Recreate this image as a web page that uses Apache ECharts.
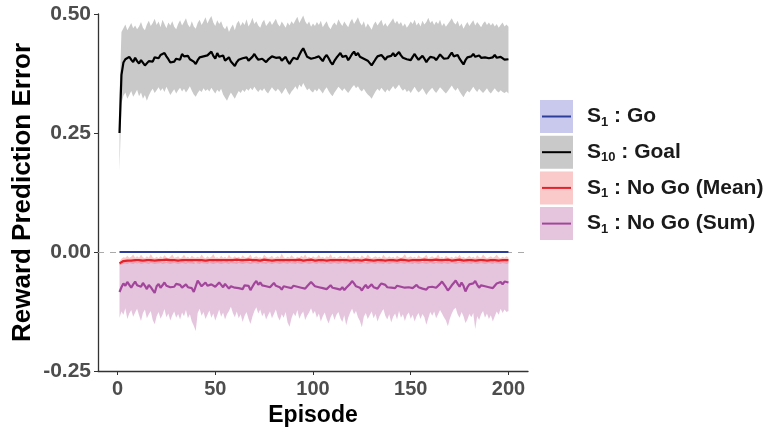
<!DOCTYPE html>
<html><head><meta charset="utf-8">
<script src="https://cdn.jsdelivr.net/npm/echarts@6/dist/echarts.min.js"></script>
<style>html,body{margin:0;padding:0;background:#fff}#c{width:781px;height:432px}</style>
</head><body><div id="c"></div>
<script>
const goalMean = [
0.250,0.372,0.398,0.405,0.402,0.410,0.404,0.399,0.408,0.401,
0.396,0.403,0.399,0.392,0.394,0.401,0.405,0.400,0.409,0.412,
0.407,0.414,0.410,0.418,0.411,0.405,0.398,0.402,0.400,0.406,
0.409,0.404,0.416,0.411,0.407,0.412,0.405,0.408,0.400,0.395,
0.403,0.409,0.405,0.411,0.407,0.413,0.410,0.421,0.412,0.406,
0.418,0.410,0.407,0.413,0.402,0.406,0.409,0.400,0.396,0.391,
0.399,0.404,0.401,0.407,0.403,0.409,0.402,0.405,0.410,0.416,
0.409,0.404,0.401,0.406,0.403,0.399,0.404,0.407,0.411,0.415,
0.408,0.404,0.409,0.402,0.406,0.410,0.401,0.395,0.402,0.408,
0.411,0.405,0.414,0.422,0.428,0.419,0.410,0.413,0.406,0.402,
0.408,0.404,0.411,0.406,0.401,0.409,0.414,0.407,0.399,0.394,
0.402,0.408,0.413,0.418,0.410,0.406,0.412,0.403,0.409,0.416,
0.421,0.413,0.418,0.410,0.414,0.406,0.409,0.402,0.398,0.392,
0.396,0.405,0.411,0.407,0.414,0.409,0.404,0.410,0.406,0.412,
0.418,0.411,0.415,0.420,0.413,0.408,0.412,0.405,0.409,0.403,
0.410,0.416,0.409,0.404,0.408,0.412,0.406,0.399,0.405,0.410,
0.414,0.408,0.403,0.409,0.415,0.411,0.406,0.402,0.407,0.413,
0.419,0.411,0.408,0.414,0.406,0.400,0.394,0.403,0.409,0.405,
0.411,0.416,0.410,0.406,0.413,0.408,0.404,0.409,0.412,0.407,
0.403,0.409,0.414,0.408,0.405,0.410,0.406,0.404,0.407,0.405];
const goalUpper = [
0.330,0.462,0.470,0.478,0.466,0.473,0.481,0.470,0.476,0.468,
0.474,0.483,0.471,0.466,0.478,0.486,0.475,0.481,0.490,0.477,
0.484,0.472,0.488,0.479,0.470,0.482,0.476,0.485,0.473,0.468,
0.479,0.487,0.476,0.483,0.491,0.478,0.472,0.485,0.474,0.469,
0.481,0.488,0.477,0.484,0.493,0.480,0.489,0.496,0.482,0.475,
0.487,0.479,0.485,0.473,0.468,0.476,0.462,0.471,0.478,0.466,
0.480,0.486,0.475,0.483,0.477,0.489,0.474,0.481,0.492,0.479,
0.485,0.476,0.471,0.482,0.488,0.475,0.480,0.486,0.477,0.483,
0.490,0.479,0.474,0.484,0.478,0.471,0.482,0.476,0.485,0.479,
0.487,0.494,0.481,0.489,0.497,0.485,0.478,0.484,0.473,0.480,
0.475,0.483,0.477,0.486,0.472,0.479,0.485,0.474,0.468,0.477,
0.482,0.476,0.489,0.481,0.475,0.484,0.478,0.472,0.483,0.490,
0.479,0.486,0.493,0.482,0.476,0.485,0.471,0.480,0.474,0.467,
0.478,0.484,0.476,0.482,0.488,0.475,0.481,0.473,0.479,0.485,
0.491,0.480,0.486,0.478,0.483,0.474,0.480,0.471,0.477,0.484,
0.479,0.488,0.476,0.482,0.474,0.486,0.478,0.483,0.492,0.481,
0.486,0.477,0.484,0.479,0.488,0.475,0.481,0.473,0.479,0.485,
0.491,0.482,0.478,0.486,0.474,0.480,0.469,0.477,0.483,0.475,
0.481,0.487,0.476,0.483,0.478,0.472,0.480,0.485,0.477,0.482,
0.476,0.481,0.474,0.479,0.471,0.477,0.482,0.474,0.478,0.473];
const goalLower = [
0.170,0.312,0.328,0.335,0.322,0.330,0.338,0.326,0.333,0.341,
0.327,0.335,0.322,0.330,0.318,0.329,0.337,0.343,0.334,0.340,
0.346,0.338,0.344,0.336,0.347,0.339,0.330,0.336,0.342,0.333,
0.340,0.345,0.337,0.343,0.335,0.341,0.348,0.339,0.331,0.326,
0.334,0.340,0.336,0.344,0.338,0.342,0.337,0.345,0.339,0.333,
0.341,0.336,0.343,0.331,0.324,0.318,0.327,0.335,0.328,0.322,
0.331,0.338,0.334,0.341,0.336,0.343,0.339,0.345,0.340,0.347,
0.341,0.336,0.342,0.338,0.344,0.337,0.333,0.340,0.346,0.341,
0.337,0.343,0.338,0.332,0.339,0.345,0.336,0.330,0.337,0.342,
0.348,0.341,0.352,0.346,0.355,0.347,0.340,0.344,0.338,0.335,
0.342,0.337,0.344,0.339,0.333,0.341,0.346,0.338,0.332,0.327,
0.335,0.341,0.347,0.343,0.338,0.344,0.339,0.334,0.340,0.346,
0.351,0.344,0.348,0.341,0.337,0.343,0.336,0.331,0.327,0.322,
0.330,0.337,0.343,0.338,0.345,0.340,0.335,0.342,0.337,0.343,
0.349,0.342,0.346,0.352,0.344,0.339,0.343,0.336,0.340,0.334,
0.341,0.347,0.340,0.335,0.339,0.344,0.337,0.330,0.336,0.341,
0.345,0.339,0.334,0.340,0.346,0.342,0.337,0.333,0.338,0.344,
0.350,0.343,0.339,0.345,0.337,0.331,0.325,0.333,0.339,0.335,
0.341,0.347,0.341,0.336,0.343,0.338,0.334,0.339,0.344,0.337,
0.333,0.339,0.344,0.338,0.335,0.340,0.336,0.334,0.337,0.333];
const sumMean = [
-0.084,-0.074,-0.066,-0.071,-0.063,-0.069,-0.075,-0.068,-0.062,-0.070,
-0.066,-0.073,-0.065,-0.071,-0.078,-0.069,-0.074,-0.080,-0.086,-0.072,
-0.067,-0.075,-0.070,-0.064,-0.071,-0.068,-0.074,-0.070,-0.073,-0.067,
-0.071,-0.069,-0.075,-0.072,-0.068,-0.074,-0.070,-0.076,-0.084,-0.088,
-0.060,-0.066,-0.072,-0.069,-0.064,-0.071,-0.075,-0.068,-0.066,-0.073,
-0.070,-0.064,-0.069,-0.074,-0.067,-0.071,-0.077,-0.072,-0.068,-0.075,
-0.071,-0.076,-0.073,-0.078,-0.070,-0.074,-0.071,-0.080,-0.073,-0.066,
-0.061,-0.069,-0.064,-0.070,-0.066,-0.072,-0.068,-0.074,-0.070,-0.065,
-0.071,-0.067,-0.074,-0.079,-0.072,-0.068,-0.074,-0.070,-0.076,-0.071,
-0.067,-0.073,-0.069,-0.075,-0.071,-0.077,-0.072,-0.068,-0.063,-0.066,
-0.072,-0.068,-0.074,-0.070,-0.076,-0.073,-0.078,-0.074,-0.070,-0.075,
-0.071,-0.077,-0.073,-0.079,-0.074,-0.080,-0.075,-0.071,-0.067,-0.061,
-0.066,-0.072,-0.068,-0.075,-0.081,-0.074,-0.069,-0.076,-0.072,-0.068,
-0.074,-0.070,-0.077,-0.071,-0.066,-0.062,-0.069,-0.074,-0.070,-0.075,
-0.072,-0.076,-0.071,-0.068,-0.073,-0.069,-0.075,-0.071,-0.074,-0.070,
-0.076,-0.072,-0.069,-0.074,-0.071,-0.077,-0.073,-0.079,-0.074,-0.070,
-0.073,-0.069,-0.075,-0.071,-0.067,-0.062,-0.068,-0.074,-0.081,-0.076,
-0.070,-0.065,-0.060,-0.067,-0.073,-0.064,-0.071,-0.083,-0.074,-0.068,
-0.072,-0.066,-0.061,-0.069,-0.075,-0.070,-0.066,-0.072,-0.068,-0.074,
-0.070,-0.076,-0.071,-0.066,-0.070,-0.063,-0.068,-0.062,-0.065,-0.064];
const sumUpper = [
-0.024,-0.021,-0.019,-0.020,-0.018,-0.021,-0.019,-0.020,-0.018,-0.022,
-0.020,-0.018,-0.021,-0.019,-0.020,-0.022,-0.018,-0.020,-0.021,-0.019,
-0.018,-0.020,-0.022,-0.019,-0.021,-0.018,-0.020,-0.019,-0.021,-0.020,
-0.019,-0.021,-0.018,-0.020,-0.022,-0.019,-0.020,-0.018,-0.021,-0.023,
-0.020,-0.018,-0.021,-0.019,-0.020,-0.018,-0.022,-0.020,-0.019,-0.021,
-0.018,-0.020,-0.019,-0.021,-0.020,-0.018,-0.022,-0.019,-0.020,-0.021,
-0.019,-0.021,-0.020,-0.018,-0.021,-0.019,-0.020,-0.022,-0.018,-0.020,
-0.021,-0.019,-0.020,-0.018,-0.021,-0.020,-0.019,-0.022,-0.020,-0.018,
-0.020,-0.021,-0.019,-0.020,-0.018,-0.021,-0.020,-0.019,-0.022,-0.020,
-0.019,-0.020,-0.018,-0.021,-0.019,-0.020,-0.022,-0.018,-0.020,-0.021,
-0.020,-0.019,-0.021,-0.018,-0.020,-0.022,-0.019,-0.020,-0.021,-0.018,
-0.019,-0.021,-0.020,-0.018,-0.022,-0.019,-0.020,-0.021,-0.019,-0.020,
-0.021,-0.018,-0.020,-0.019,-0.021,-0.020,-0.022,-0.019,-0.018,-0.020,
-0.020,-0.019,-0.021,-0.020,-0.018,-0.021,-0.019,-0.022,-0.020,-0.019,
-0.018,-0.020,-0.021,-0.019,-0.020,-0.018,-0.021,-0.020,-0.019,-0.022,
-0.020,-0.021,-0.019,-0.018,-0.020,-0.021,-0.019,-0.020,-0.022,-0.018,
-0.019,-0.020,-0.021,-0.018,-0.020,-0.019,-0.021,-0.020,-0.018,-0.022,
-0.020,-0.019,-0.018,-0.021,-0.020,-0.019,-0.022,-0.020,-0.018,-0.021,
-0.019,-0.021,-0.020,-0.018,-0.020,-0.022,-0.019,-0.021,-0.020,-0.019,
-0.020,-0.018,-0.021,-0.019,-0.020,-0.021,-0.018,-0.020,-0.019,-0.020];
const sumLower = [
-0.138,-0.125,-0.132,-0.118,-0.141,-0.129,-0.122,-0.136,-0.127,-0.119,
-0.133,-0.145,-0.128,-0.121,-0.139,-0.131,-0.124,-0.143,-0.152,-0.135,
-0.126,-0.140,-0.132,-0.120,-0.137,-0.129,-0.144,-0.133,-0.125,-0.138,
-0.130,-0.142,-0.127,-0.135,-0.122,-0.139,-0.131,-0.146,-0.155,-0.166,
-0.128,-0.119,-0.134,-0.126,-0.141,-0.132,-0.123,-0.138,-0.129,-0.144,
-0.133,-0.121,-0.136,-0.127,-0.142,-0.131,-0.124,-0.115,-0.128,-0.137,
-0.125,-0.139,-0.131,-0.147,-0.134,-0.126,-0.140,-0.151,-0.136,-0.124,
-0.116,-0.129,-0.121,-0.135,-0.127,-0.142,-0.133,-0.125,-0.139,-0.130,
-0.121,-0.136,-0.144,-0.131,-0.138,-0.126,-0.148,-0.157,-0.139,-0.128,
-0.135,-0.122,-0.140,-0.131,-0.125,-0.143,-0.134,-0.127,-0.118,-0.130,
-0.124,-0.138,-0.129,-0.146,-0.135,-0.127,-0.141,-0.150,-0.137,-0.129,
-0.143,-0.132,-0.126,-0.139,-0.147,-0.133,-0.154,-0.138,-0.127,-0.119,
-0.131,-0.124,-0.137,-0.145,-0.158,-0.136,-0.128,-0.141,-0.133,-0.125,
-0.139,-0.130,-0.146,-0.135,-0.127,-0.120,-0.134,-0.142,-0.131,-0.148,
-0.136,-0.129,-0.142,-0.124,-0.138,-0.131,-0.145,-0.133,-0.127,-0.140,
-0.132,-0.146,-0.135,-0.128,-0.141,-0.130,-0.137,-0.153,-0.139,-0.126,
-0.134,-0.125,-0.139,-0.131,-0.122,-0.129,-0.137,-0.144,-0.156,-0.140,
-0.129,-0.121,-0.117,-0.131,-0.138,-0.126,-0.135,-0.149,-0.142,-0.130,
-0.137,-0.128,-0.162,-0.135,-0.143,-0.131,-0.124,-0.138,-0.129,-0.141,
-0.133,-0.146,-0.135,-0.125,-0.132,-0.119,-0.128,-0.121,-0.126,-0.124];
const meanMean = [
-0.024,-0.021,-0.019,-0.018,-0.018,-0.017,-0.018,-0.017,-0.017,-0.018,
-0.017,-0.017,-0.018,-0.017,-0.017,-0.016,-0.017,-0.017,-0.018,-0.017,
-0.017,-0.018,-0.017,-0.017,-0.016,-0.017,-0.017,-0.018,-0.017,-0.017,
-0.018,-0.017,-0.017,-0.016,-0.017,-0.018,-0.017,-0.017,-0.017,-0.018,
-0.017,-0.016,-0.017,-0.017,-0.018,-0.017,-0.017,-0.016,-0.017,-0.017,
-0.017,-0.018,-0.017,-0.017,-0.017,-0.016,-0.017,-0.018,-0.017,-0.017,
-0.016,-0.017,-0.017,-0.018,-0.017,-0.017,-0.016,-0.017,-0.017,-0.018,
-0.017,-0.017,-0.018,-0.017,-0.016,-0.017,-0.017,-0.017,-0.018,-0.017,
-0.017,-0.016,-0.017,-0.018,-0.017,-0.017,-0.017,-0.016,-0.017,-0.018,
-0.017,-0.017,-0.016,-0.017,-0.018,-0.017,-0.017,-0.017,-0.016,-0.017,
-0.018,-0.017,-0.017,-0.016,-0.017,-0.017,-0.018,-0.017,-0.017,-0.016,
-0.017,-0.018,-0.017,-0.017,-0.017,-0.016,-0.017,-0.017,-0.018,-0.017,
-0.017,-0.016,-0.017,-0.017,-0.018,-0.017,-0.016,-0.017,-0.017,-0.017,
-0.018,-0.017,-0.017,-0.016,-0.017,-0.017,-0.018,-0.017,-0.017,-0.016,
-0.017,-0.017,-0.018,-0.017,-0.016,-0.017,-0.017,-0.017,-0.018,-0.017,
-0.017,-0.016,-0.017,-0.018,-0.017,-0.017,-0.016,-0.017,-0.017,-0.018,
-0.017,-0.017,-0.016,-0.017,-0.017,-0.018,-0.017,-0.017,-0.016,-0.017,
-0.018,-0.017,-0.017,-0.017,-0.016,-0.017,-0.018,-0.017,-0.017,-0.016,
-0.017,-0.017,-0.018,-0.017,-0.017,-0.016,-0.017,-0.017,-0.018,-0.017,
-0.017,-0.016,-0.017,-0.017,-0.018,-0.017,-0.017,-0.016,-0.017,-0.017];
const meanUpper = [
-0.020,-0.014,-0.011,-0.012,-0.008,-0.012,-0.010,-0.005,-0.012,-0.009,
-0.012,-0.006,-0.011,-0.013,-0.009,-0.012,-0.004,-0.011,-0.013,-0.010,
-0.013,-0.009,-0.012,-0.007,-0.011,-0.013,-0.010,-0.005,-0.012,-0.011,
-0.009,-0.013,-0.011,-0.006,-0.012,-0.010,-0.013,-0.008,-0.011,-0.012,
-0.010,-0.012,-0.005,-0.011,-0.013,-0.009,-0.012,-0.010,-0.004,-0.012,
-0.011,-0.013,-0.008,-0.012,-0.010,-0.013,-0.006,-0.011,-0.012,-0.009,
-0.012,-0.010,-0.013,-0.007,-0.011,-0.012,-0.010,-0.005,-0.013,-0.011,
-0.009,-0.012,-0.011,-0.013,-0.006,-0.010,-0.012,-0.011,-0.008,-0.013,
-0.011,-0.009,-0.012,-0.003,-0.011,-0.013,-0.010,-0.012,-0.007,-0.011,
-0.013,-0.010,-0.012,-0.008,-0.011,-0.005,-0.012,-0.010,-0.013,-0.009,
-0.012,-0.011,-0.006,-0.012,-0.010,-0.013,-0.009,-0.011,-0.004,-0.012,
-0.010,-0.013,-0.011,-0.008,-0.012,-0.010,-0.013,-0.006,-0.011,-0.012,
-0.009,-0.012,-0.010,-0.013,-0.007,-0.011,-0.012,-0.005,-0.010,-0.013,
-0.011,-0.009,-0.012,-0.010,-0.013,-0.006,-0.011,-0.012,-0.009,-0.012,
-0.010,-0.013,-0.008,-0.011,-0.012,-0.010,-0.004,-0.012,-0.011,-0.009,
-0.012,-0.010,-0.013,-0.007,-0.011,-0.012,-0.010,-0.006,-0.013,-0.011,
-0.009,-0.012,-0.011,-0.005,-0.012,-0.010,-0.013,-0.008,-0.011,-0.012,
-0.010,-0.013,-0.009,-0.011,-0.006,-0.012,-0.010,-0.013,-0.011,-0.008,
-0.012,-0.010,-0.013,-0.007,-0.011,-0.012,-0.005,-0.010,-0.013,-0.011,
-0.009,-0.012,-0.010,-0.006,-0.011,-0.013,-0.010,-0.012,-0.009,-0.012];
const meanLower = [
-0.028,-0.027,-0.025,-0.024,-0.025,-0.023,-0.024,-0.025,-0.023,-0.024,
-0.023,-0.025,-0.024,-0.023,-0.024,-0.025,-0.023,-0.024,-0.025,-0.024,
-0.024,-0.023,-0.025,-0.024,-0.023,-0.024,-0.025,-0.024,-0.023,-0.024,
-0.025,-0.024,-0.023,-0.024,-0.025,-0.023,-0.024,-0.024,-0.025,-0.023,
-0.024,-0.025,-0.023,-0.024,-0.024,-0.025,-0.023,-0.024,-0.025,-0.024,
-0.023,-0.024,-0.025,-0.024,-0.023,-0.024,-0.025,-0.023,-0.024,-0.024,
-0.025,-0.023,-0.024,-0.025,-0.024,-0.023,-0.024,-0.025,-0.024,-0.023,
-0.024,-0.025,-0.023,-0.024,-0.024,-0.025,-0.023,-0.024,-0.025,-0.024,
-0.023,-0.024,-0.025,-0.024,-0.023,-0.024,-0.025,-0.023,-0.024,-0.024,
-0.025,-0.023,-0.024,-0.025,-0.024,-0.023,-0.024,-0.025,-0.024,-0.023,
-0.024,-0.025,-0.023,-0.024,-0.024,-0.025,-0.023,-0.024,-0.025,-0.024,
-0.023,-0.024,-0.025,-0.024,-0.023,-0.024,-0.025,-0.023,-0.024,-0.024,
-0.025,-0.023,-0.024,-0.025,-0.024,-0.023,-0.024,-0.025,-0.024,-0.023,
-0.024,-0.025,-0.023,-0.024,-0.024,-0.025,-0.023,-0.024,-0.025,-0.024,
-0.023,-0.024,-0.025,-0.024,-0.023,-0.024,-0.025,-0.023,-0.024,-0.024,
-0.025,-0.023,-0.024,-0.025,-0.024,-0.023,-0.024,-0.025,-0.024,-0.023,
-0.024,-0.025,-0.023,-0.024,-0.024,-0.025,-0.023,-0.024,-0.025,-0.024,
-0.023,-0.024,-0.025,-0.024,-0.023,-0.024,-0.025,-0.023,-0.024,-0.024,
-0.025,-0.023,-0.024,-0.025,-0.024,-0.023,-0.024,-0.025,-0.024,-0.023,
-0.024,-0.025,-0.023,-0.024,-0.024,-0.025,-0.023,-0.024,-0.025,-0.024];
const goMean = [
0,0,0,0,0,0,0,0,0,0, 0,0,0,0,0,0,0,0,0,0,
0,0,0,0,0,0,0,0,0,0, 0,0,0,0,0,0,0,0,0,0,
0,0,0,0,0,0,0,0,0,0, 0,0,0,0,0,0,0,0,0,0,
0,0,0,0,0,0,0,0,0,0, 0,0,0,0,0,0,0,0,0,0,
0,0,0,0,0,0,0,0,0,0, 0,0,0,0,0,0,0,0,0,0,
0,0,0,0,0,0,0,0,0,0, 0,0,0,0,0,0,0,0,0,0,
0,0,0,0,0,0,0,0,0,0, 0,0,0,0,0,0,0,0,0,0,
0,0,0,0,0,0,0,0,0,0, 0,0,0,0,0,0,0,0,0,0,
0,0,0,0,0,0,0,0,0,0, 0,0,0,0,0,0,0,0,0,0,
0,0,0,0,0,0,0,0,0,0, 0,0,0,0,0,0,0,0,0,0];
const xTicks = [0, 50, 100, 150, 200];
const yTicks = [-0.25, 0, 0.25, 0.5];
const legendSub = ['1', '10', '1', '1'];
const legendNames = [' : Go', ' : Goal', ' : No Go (Mean)', ' : No Go (Sum)'];

const FONT = 'Liberation Sans';
const episodes = goalMean.map((_, i) => i + 1);
const pairs = arr => arr.map((v, i) => [episodes[i], v]);

const colors = {
  go: {line: '#2c3e99', band: 'rgba(90,90,200,0.33)'},
  goal: {line: '#000000', band: '#c9c9c9'},
  mean: {line: '#e4202b', band: 'rgba(240,90,90,0.32)'},
  sum: {line: '#a2469c', band: 'rgba(190,110,170,0.40)'}
};

function band(key, up, lo) {
  return {
    type: 'custom', silent: true, z: 1, clip: true,
    data: [0],
    renderItem: function (params, api) {
      const pts = [];
      for (let i = 0; i < up.length; i++) pts.push(api.coord([episodes[i], up[i]]));
      for (let i = lo.length - 1; i >= 0; i--) pts.push(api.coord([episodes[i], lo[i]]));
      return {type: 'polygon', shape: {points: pts}, style: {fill: colors[key].band}};
    }
  };
}
function line(key, arr, extra) {
  return Object.assign({type: 'line', data: pairs(arr), symbol: 'none', z: 3,
    lineStyle: {color: colors[key].line, width: 2.2}}, extra || {});
}

const series = [
  band('goal', goalUpper, goalLower),
  band('sum', sumUpper, sumLower),
  band('mean', meanUpper, meanLower),
  line('sum', sumMean),
  line('mean', meanMean),
  line('go', goMean, {markLine: {silent: true, symbol: 'none', label: {show: false},
    lineStyle: {color: '#aaaaaa', type: [6, 6], width: 1}, data: [{yAxis: 0}], z: 2}}),
  line('goal', goalMean)
];

const legendKeys = ['go', 'goal', 'mean', 'sum'];
const graphics = [];
legendKeys.forEach((k, i) => {
  const top = 100 + i * 35.7;
  graphics.push({type: 'rect', shape: {x: 540, y: top, width: 33, height: 33},
    style: {fill: colors[k].band}});
  graphics.push({type: 'line', shape: {x1: 542, y1: top + 16.5, x2: 571, y2: top + 16.5},
    style: {stroke: colors[k].line, lineWidth: 2}});
  graphics.push({type: 'text', x: 587, y: top + 16.5, style: {
    text: '{b|S}{s|' + legendSub[i] + '}{b|' + legendNames[i] + '}',
    verticalAlign: 'middle', align: 'left',
    rich: {
      b: {fontSize: 21, fontWeight: 'bold', fontFamily: FONT, fill: '#1a1a1a', lineHeight: 24},
      s: {fontSize: 13, fontWeight: 'bold', fontFamily: FONT, fill: '#1a1a1a', lineHeight: 12, verticalAlign: 'bottom'}
    }}});
});

const chart = echarts.init(document.getElementById('c'), null, {renderer: 'canvas'});
chart.setOption({
  animation: false,
  backgroundColor: '#ffffff',
  grid: {left: 98, right: 253, top: 14, bottom: 60, containLabel: false},
  xAxis: {
    type: 'value', min: -10, max: 210,
    name: 'Episode', nameLocation: 'middle', nameGap: 33, nameMoveOverlap: false,
    nameTextStyle: {fontFamily: FONT, fontWeight: 'bold', fontSize: 23, color: '#000'},
    axisLine: {onZero: false, lineStyle: {color: '#333', width: 1.3}},
    axisTick: {show: true, length: 4, customValues: xTicks, lineStyle: {color: '#333'}},
    axisLabel: {customValues: xTicks, fontFamily: FONT, fontWeight: 'bold', fontSize: 20, color: '#4d4d4d', margin: 8},
    splitLine: {show: false}
  },
  yAxis: {
    type: 'value', min: -0.25, max: 0.5, interval: 0.25,
    name: 'Reward Prediction Error', nameLocation: 'middle', nameGap: 62, nameMoveOverlap: false,
    nameTextStyle: {fontFamily: FONT, fontWeight: 'bold', fontSize: 26, color: '#000'},
    axisLine: {show: true, onZero: false, lineStyle: {color: '#333', width: 1.3}},
    axisTick: {show: true, length: 4, customValues: yTicks, lineStyle: {color: '#333'}},
    axisLabel: {customValues: yTicks, formatter: v => v.toFixed(2), fontFamily: FONT, fontWeight: 'bold', fontSize: 21, color: '#4d4d4d', margin: 7},
    splitLine: {show: false}
  },
  series: series,
  graphic: graphics
});
</script></body></html>
